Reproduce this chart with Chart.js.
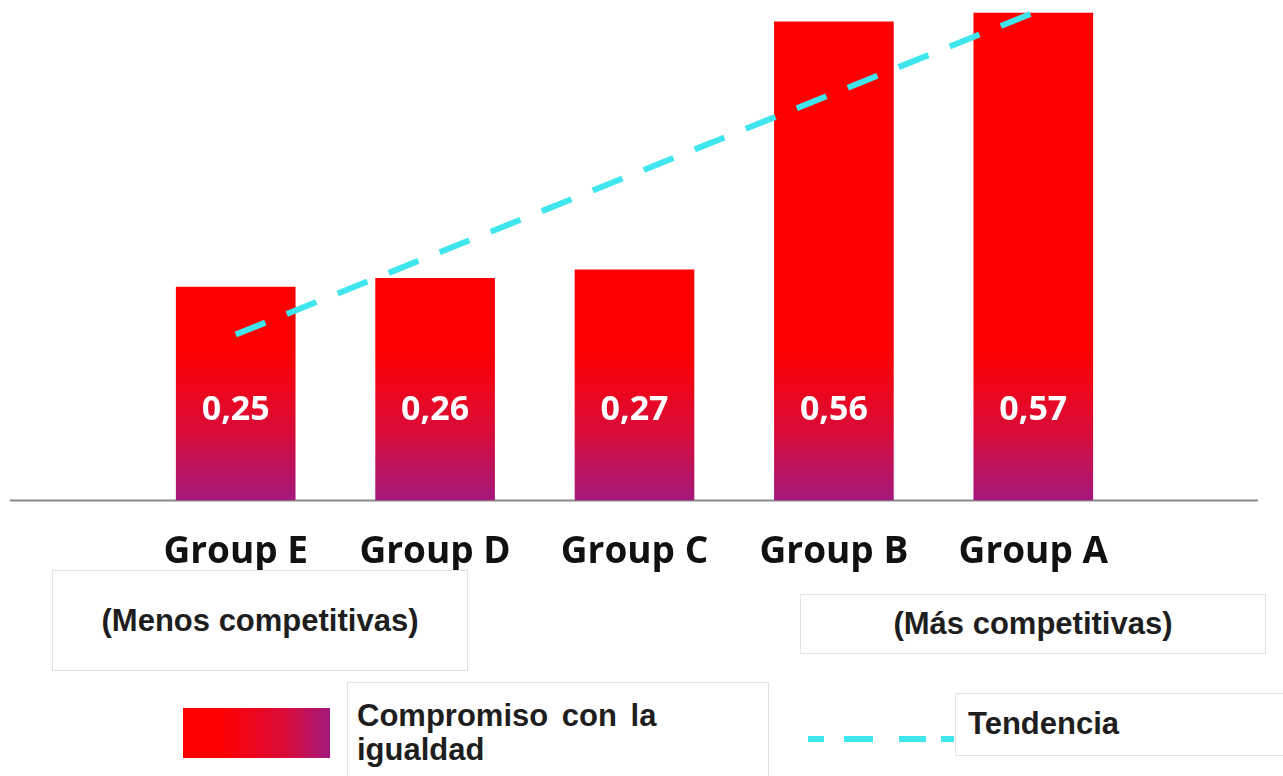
<!DOCTYPE html>
<html>
<head>
<meta charset="utf-8">
<script src="https://cdn.jsdelivr.net/npm/chart.js@4.4.1/dist/chart.umd.min.js"></script>
<style>
  body { margin: 0; background: #fff; }
  #wrap { position: relative; width: 1283px; height: 776px; overflow: hidden; }
  canvas { position: absolute; left: 0; top: 0; }
  .box { position: absolute; border: 1px solid #e2e2e2; background: #fff; box-sizing: border-box;
         font-family: "Liberation Sans", Arial, sans-serif; font-weight: bold; font-size: 31px; color: #1e1e1e; }
  .center { display: flex; align-items: center; justify-content: center; }
</style>
</head>
<body>
<div id="wrap">
  <canvas id="chart" width="1283" height="776"></canvas>
  <div class="box center" style="left:52px;top:570px;width:416px;height:101px;">(Menos competitivas)</div>
  <div class="box center" style="left:800px;top:594px;width:466px;height:60px;">(Más competitivas)</div>
  <div class="box" id="swatch" style="left:183px;top:708px;width:147px;height:50px;border:none;"></div>
  <div class="box" style="left:347px;top:682px;width:422px;height:110px;padding:16px 0 0 9px;line-height:34px;word-spacing:5px;">Compromiso con la<br>igualdad</div>
  <div class="box" style="left:955px;top:693px;width:340px;height:63px;padding:13px 0 0 12px;line-height:34px;border-right:none;">Tendencia</div>
  <canvas id="legline" width="150" height="10" style="left:806px;top:734px;"></canvas>
</div>
<script>
var groups = ['Group E', 'Group D', 'Group C', 'Group B', 'Group A'];
var compromiso = [0.25, 0.26, 0.27, 0.56, 0.57];
var tendencia = [0.194, 0.288, 0.382, 0.476, 0.570];

var RED = '#ff0000', PURPLE = '#a3187c', CYAN = '#3fe6ee';

// legend swatch (horizontal gradient)
var sw = document.getElementById('swatch');
sw.style.background = 'linear-gradient(to right, ' + RED + ' 0%, ' + RED + ' 25%, #d80c3a 70%, ' + PURPLE + ' 100%)';

// legend dashed line
var lctx = document.getElementById('legline').getContext('2d');
lctx.strokeStyle = CYAN;
lctx.lineWidth = 6;
lctx.setLineDash([16, 20, 29, 26, 27, 15]);
lctx.beginPath();
lctx.moveTo(2, 5);
lctx.lineTo(148, 5);
lctx.stroke();

function barGradient(context) {
    var chart = context.chart;
    var area = chart.chartArea;
    if (!area) return RED;
    var g = chart.ctx.createLinearGradient(0, area.bottom, 0, area.bottom - 150);
    g.addColorStop(0, PURPLE);
    g.addColorStop(0.45, '#d80c3a');
    g.addColorStop(1, RED);
    return g;
}

var valueLabels = {
    id: 'valueLabels',
    afterDatasetsDraw: function (chart) {
        var ctx = chart.ctx;
        var meta = chart.getDatasetMeta(0);
        ctx.save();
        ctx.fillStyle = '#ffffff';
        ctx.font = 'bold 34px "Open Sans"';
        ctx.textAlign = 'center';
        ctx.textBaseline = 'middle';
        meta.data.forEach(function (bar, i) {
            ctx.fillText(compromiso[i].toFixed(2).replace('.', ','), bar.x, chart.chartArea.bottom - 90);
        });
        ctx.restore();
    },
    beforeDatasetsDraw: function (chart) {
        // baseline across the whole width
        var ctx = chart.ctx;
        var y = chart.chartArea.bottom;
        ctx.save();
        ctx.strokeStyle = '#8a8a8a';
        ctx.lineWidth = 2;
        ctx.beginPath();
        ctx.moveTo(10, y);
        ctx.lineTo(1258, y);
        ctx.stroke();
        ctx.restore();
    }
};

var ctx = document.getElementById('chart').getContext('2d');
window.myChart = new Chart(ctx, {
    type: 'bar',
    data: {
        labels: groups,
        datasets: [{
            type: 'line',
            label: 'Tendencia',
            data: tendencia,
            borderColor: CYAN,
            borderWidth: 6,
            borderDash: [32, 23],
            pointRadius: 0,
            fill: false,
            order: 0
        }, {
            label: 'Compromiso con la igualdad',
            data: compromiso,
            backgroundColor: barGradient,
            barPercentage: 0.6,
            categoryPercentage: 1,
            order: 1
        }]
    },
    options: {
        responsive: false,
        animation: false,
        layout: { padding: { left: 136, right: 150, top: 0, bottom: 171 } },
        plugins: { legend: { display: false }, tooltip: { enabled: false } },
        scales: {
            x: {
                grid: { display: false, drawTicks: false },
                border: { display: false },
                ticks: { color: '#111', padding: 30, font: { family: 'Open Sans', weight: 'bold', size: 37 } }
            },
            y: { display: false, min: 0, max: 0.585 }
        }
    },
    plugins: [valueLabels]
});
</script>
</body>
</html>
